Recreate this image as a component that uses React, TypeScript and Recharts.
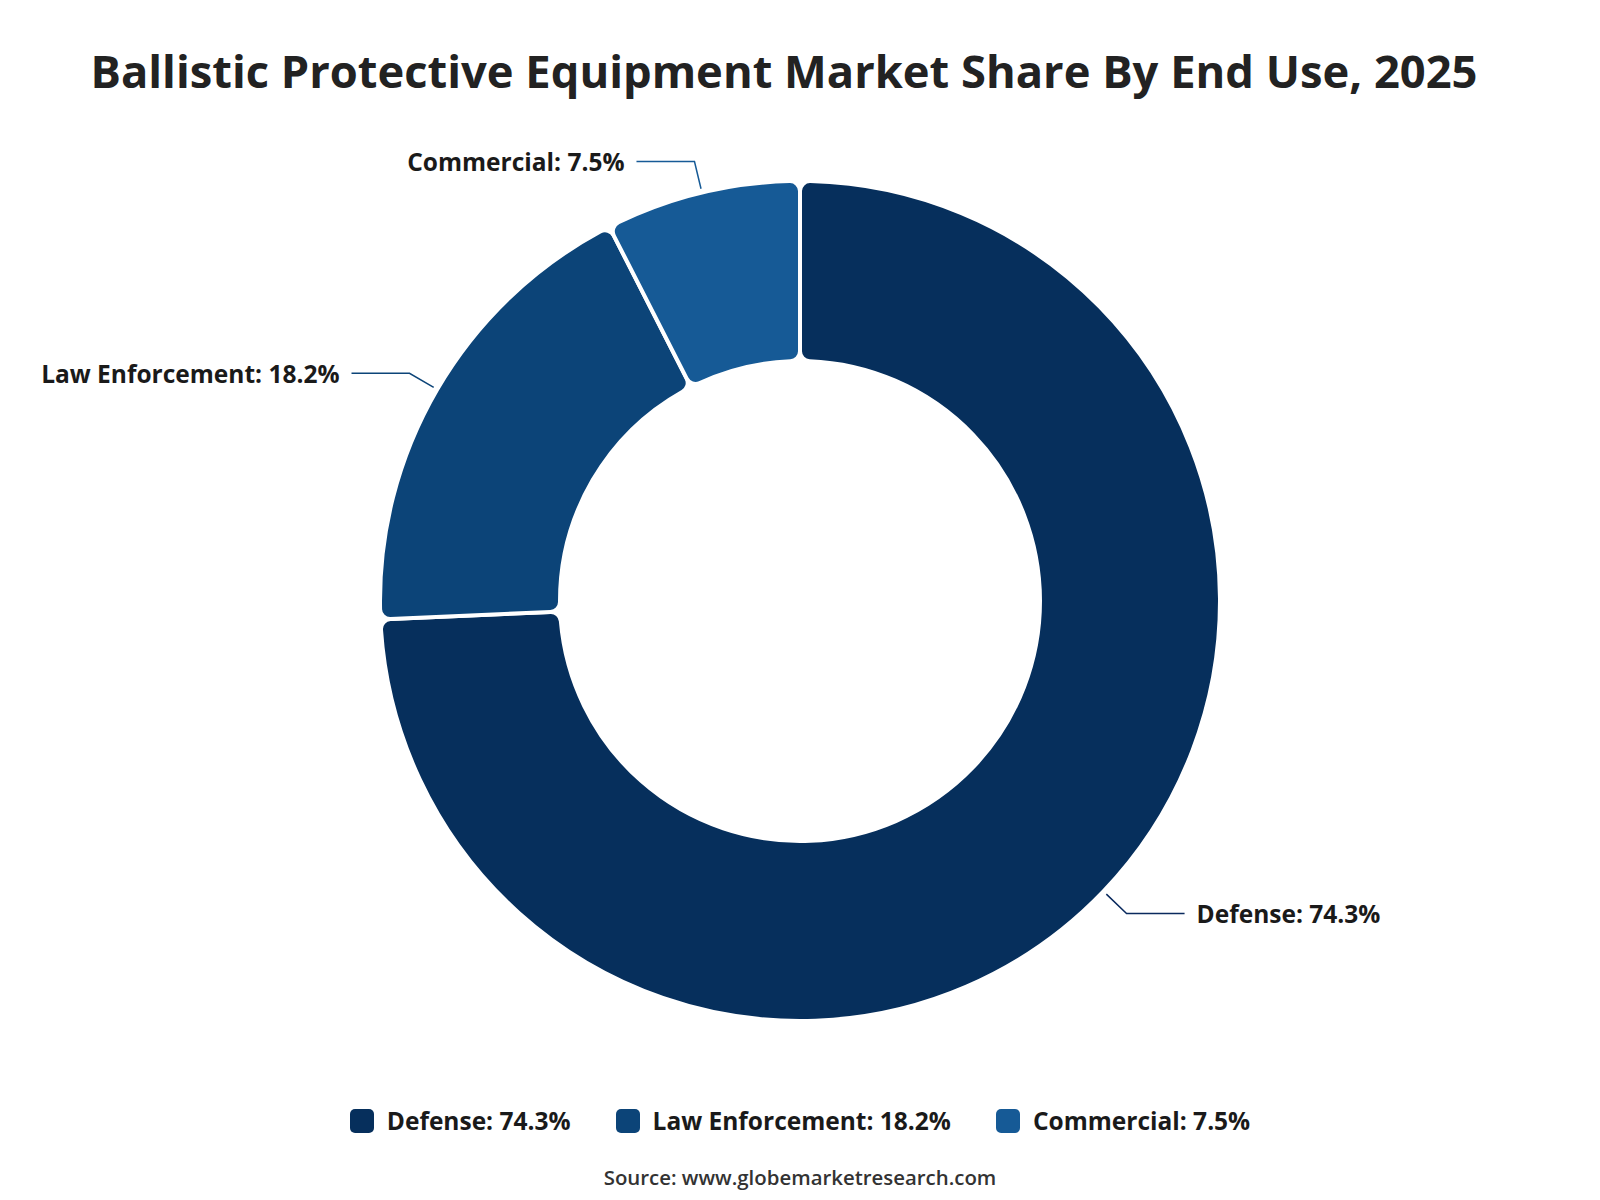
import React from "react";
import { PieChart, Pie, Cell } from "recharts";

const categories = ["Defense", "Law Enforcement", "Commercial"];
const shares = [74.3, 18.2, 7.5];
const colors = ["#062F5C", "#0C4478", "#165A96"];
const lineColors = ["#0A2A5E", "#0C4478", "#165A96"];
const titleText = "Ballistic Protective Equipment Market Share By End Use, 2025";
const sourceText = "Source: www.globemarketresearch.com";

const data = categories.map((name, i) => ({ name, value: shares[i] }));

const RADIAN = Math.PI / 180;
const FONT = "'Open Sans', 'Noto Sans', sans-serif";

const renderLabel = (props: any) => {
  const { cx, cy, midAngle, outerRadius, index } = props;
  const cos = Math.cos(-midAngle * RADIAN);
  const sin = Math.sin(-midAngle * RADIAN);
  const r1 = outerRadius + 4;
  const r2 = outerRadius + 32;
  const x1 = cx + r1 * cos;
  const y1 = cy + r1 * sin;
  const x2 = cx + r2 * cos;
  const y2 = cy + r2 * sin;
  const right = cos >= 0;
  const x3 = x2 + (right ? 58 : -58);
  const tx = x3 + (right ? 12 : -12);
  return (
    <g key={`lbl-${index}`}>
      <polyline
        points={`${x1},${y1} ${x2},${y2} ${x3},${y2}`}
        fill="none"
        stroke={lineColors[index]}
        strokeWidth={1.5}
      />
      <text
        x={tx}
        y={y2}
        textAnchor={right ? "start" : "end"}
        dominantBaseline="central"
        fontFamily={FONT}
        fontWeight={700}
        fontSize={24.5}
        fill="#1a1a1a"
      >
        {`${categories[index]}: ${shares[index]}%`}
      </text>
    </g>
  );
};

export default function App() {
  return (
    <div
      style={{
        position: "absolute",
        left: 0,
        top: 0,
        width: 1600,
        height: 1200,
        background: "#fff",
        fontFamily: FONT,
      }}
    >
      <div
        style={{
          position: "absolute",
          top: 40,
          left: 0,
          width: 1568,
          textAlign: "center",
          fontSize: 45.3,
          fontWeight: 700,
          color: "#222",
          lineHeight: "62px",
          whiteSpace: "nowrap",
        }}
      >
        {titleText}
      </div>
      <div style={{ position: "absolute", left: 0, top: 0 }}>
        <PieChart width={1600} height={1200}>
          <Pie
            data={data}
            dataKey="value"
            nameKey="name"
            cx={795}
            cy={596}
            startAngle={90}
            endAngle={-270}
            innerRadius={240}
            outerRadius={420}
            cornerRadius={10}
            stroke="#ffffff"
            strokeWidth={4}
            label={renderLabel}
            labelLine={false}
            isAnimationActive={false}
          >
            {data.map((d, i) => (
              <Cell key={d.name} fill={colors[i]} />
            ))}
          </Pie>
        </PieChart>
      </div>
      <div
        style={{
          position: "absolute",
          top: 1104,
          left: 0,
          width: 1600,
          display: "flex",
          justifyContent: "center",
          gap: 45,
        }}
      >
        {categories.map((c, i) => (
          <div key={c} style={{ display: "flex", alignItems: "center" }}>
            <div
              style={{
                width: 24,
                height: 24,
                borderRadius: 5,
                background: colors[i],
                marginRight: 13,
              }}
            />
            <span style={{ fontSize: 24.5, fontWeight: 700, color: "#1a1a1a", lineHeight: "34px", whiteSpace: "nowrap" }}>
              {`${c}: ${shares[i]}%`}
            </span>
          </div>
        ))}
      </div>
      <div
        style={{
          position: "absolute",
          top: 1162,
          left: 0,
          width: 1600,
          textAlign: "center",
          fontSize: 20.4,
          fontWeight: 600,
          color: "#333",
          lineHeight: "30px",
        }}
      >
        {sourceText}
      </div>
    </div>
  );
}
